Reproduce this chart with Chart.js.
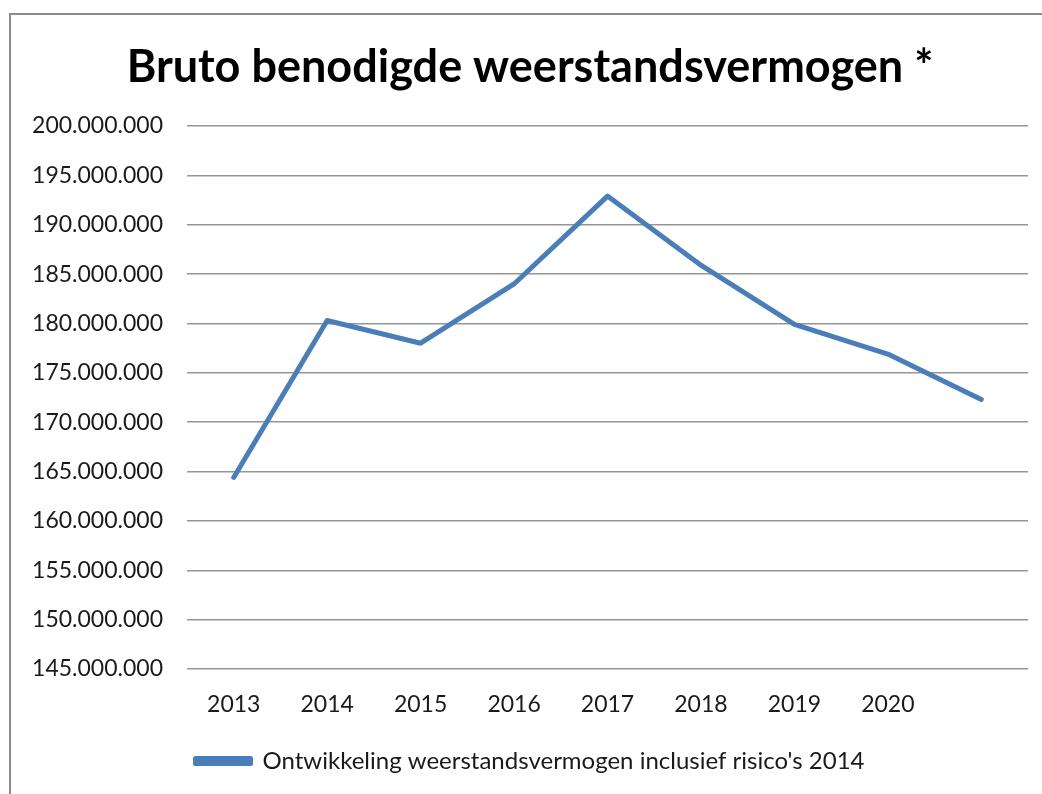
<!DOCTYPE html>
<html>
<head>
<meta charset="utf-8">
<script src="https://cdn.jsdelivr.net/npm/chart.js@4"></script>
<style>
body{margin:0;background:#fff;overflow:hidden;}
#wrap{position:relative;width:1042px;height:794px;}
#frame{position:absolute;left:9px;top:13px;width:1100px;height:900px;border-left:2px solid #8c8c8c;border-top:2px solid #8c8c8c;pointer-events:none;}
</style>
</head>
<body>
<div id="wrap">
<canvas id="chart"></canvas>
<div id="frame"></div>
</div>
<script>
const years = ['2013','2014','2015','2016','2017','2018','2019','2020',''];
const values = [164400000,180300000,178000000,184000000,192900000,185900000,179900000,176900000,172300000];
const seriesName = "Ontwikkeling weerstandsvermogen inclusief risico's 2014";
const chartTitle = 'Bruto benodigde weerstandsvermogen *';

const fontName = 'Lato';
const blue = '#4a7ebb';

function dots(v){
return String(Math.round(v)).replace(/\B(?=(\d{3})+(?!\d))/g,'.');
}

new Chart(
document.getElementById('chart'),
{
type:'line',
data:{
labels:years,
datasets:[{
label:seriesName,
data:values,
borderColor:blue,
backgroundColor:blue,
borderWidth:5,
borderCapStyle:'round',
borderJoinStyle:'round',
tension:0,
pointRadius:0,
fill:false
}]
},
options:{
responsive:true,
maintainAspectRatio:false,
animation:false,
layout:{padding:{left:32,right:14,top:0,bottom:11}},
plugins:{
title:{
display:true,
text:chartTitle,
color:'#000',
font:{family:fontName,size:45,weight:'bold'},
padding:{top:40,bottom:32}
},
legend:{
position:'bottom',
labels:{
color:'#1a1a1a',
font:{family:fontName,size:24},
boxWidth:55,
boxHeight:5,
padding:10
}
},
tooltip:{enabled:false}
},
scales:{
x:{
offset:true,
grid:{display:false,drawTicks:false},
border:{display:false},
ticks:{color:'#1a1a1a',font:{family:fontName,size:23},padding:22,maxRotation:0,autoSkip:false},
afterFit:s=>{s.height=70;}
},
y:{
min:145000000,
max:200000000,
grid:{color:'#959595',lineWidth:1.5,drawTicks:false},
border:{display:false},
ticks:{
stepSize:5000000,
color:'#1a1a1a',
font:{family:fontName,size:23},
padding:24,
callback:v=>dots(v)
},
afterFit:s=>{s.width=155;}
}
}
}
}
);
</script>
</body>
</html>
